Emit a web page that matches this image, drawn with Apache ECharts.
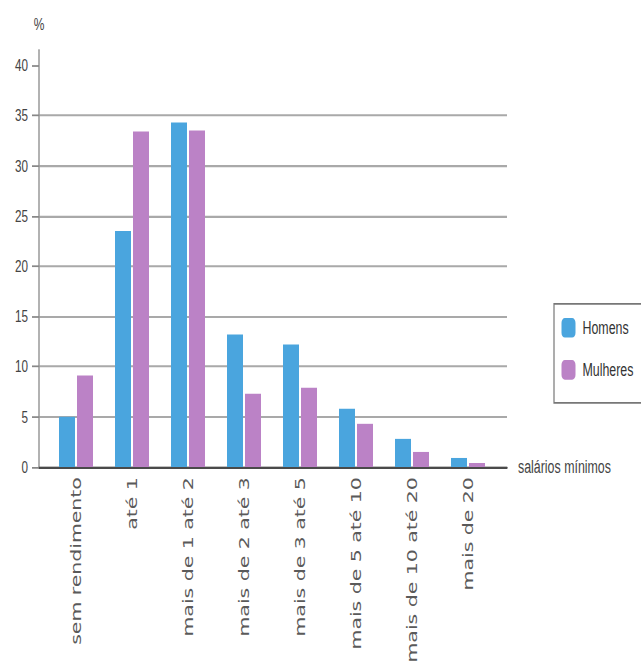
<!DOCTYPE html>
<html><head><meta charset="utf-8">
<script src="https://cdn.jsdelivr.net/npm/echarts@6/dist/echarts.min.js"></script>
<style>
html,body{margin:0;padding:0;background:#fff;overflow:hidden}
#wrap{width:641px;height:663px;overflow:hidden;background:#fff}
#c{width:641px;height:457px;transform:scaleY(1.45077);transform-origin:0 0}
</style>
</head><body><div id="wrap"><div id="c"></div></div>
<script>
const categories = ['sem rendimento','até 1','mais de 1 até 2','mais de 2 até 3','mais de 3 até 5','mais de 5 até 10','mais de 10 até 20','mais de 20'];
const homens = [5.0, 23.5, 34.3, 13.2, 12.2, 5.8, 2.8, 0.9];
const mulheres = [9.1, 33.4, 33.5, 7.3, 7.9, 4.3, 1.5, 0.4];
const yTicks = [0, 5, 10, 15, 20, 25, 30, 35, 40];
const seriesNames = ['Homens', 'Mulheres'];
const yAxisName = '%';
const xAxisName = 'salários mínimos';
const Y_MAX = 41.5;

const colors = ['#4aa5de', '#bb82c6'];
const sansNarrow = "'Liberation Sans', Arial, sans-serif";

const chart = echarts.init(document.getElementById('c'), null, {renderer: 'svg'});
chart.setOption({
  animation: false,
  backgroundColor: '#fff',
  color: colors,
  grid: [
    {left: 39, right: 134, top: 34.6, bottom: 135.1, outerBoundsMode: 'none', containLabel: false},
    {left: 48, right: 145, top: 34.6, bottom: 135.1, outerBoundsMode: 'none', containLabel: false}
  ],
  legend: {
    orient: 'vertical', left: 554, top: 209.5,
    padding: [9.7, 20, 16, 7.5],
    itemWidth: 14, itemHeight: 13.5, itemGap: 15.5,
    borderColor: '#777', borderWidth: 1.2, borderRadius: 0,
    textStyle: {fontFamily: sansNarrow, fontSize: 12.4, color: '#333', padding: [0, 0, 0, 2]},
    data: seriesNames
  },
  xAxis: [
    {
      gridIndex: 0, type: 'value', min: 0, max: 1,
      axisLine: {show: true, onZero: false, lineStyle: {color: '#4a4a4a', width: 1.4}},
      axisTick: {show: false}, axisLabel: {show: false}, splitLine: {show: false},
      name: xAxisName, nameLocation: 'end', nameGap: 11,
      nameTextStyle: {fontFamily: sansNarrow, fontSize: 12.4, color: '#444'}
    },
    {
      gridIndex: 1, type: 'category', data: categories,
      axisLine: {show: false}, axisTick: {show: false},
      axisLabel: {rotate: 90, interval: 0, margin: 7, fontFamily: "'DejaVu Sans', sans-serif", fontSize: 14.1, color: '#5a5a5a'}
    }
  ],
  yAxis: [
    {
      gridIndex: 0, type: 'value', min: 0, max: Y_MAX, interval: 5,
      axisLine: {show: true, lineStyle: {color: '#999', width: 1.5}},
      axisTick: {show: true, length: 7, customValues: yTicks, lineStyle: {color: '#888', width: 1.2}},
      axisLabel: {customValues: yTicks, margin: 11, fontFamily: sansNarrow, fontSize: 11.7, color: '#444'},
      splitLine: {show: true, showMaxLine: false, lineStyle: {color: '#a9a9a9', width: 1.4}},
      name: yAxisName, nameLocation: 'end', nameGap: 12,
      nameTextStyle: {fontFamily: sansNarrow, fontSize: 12, color: '#444'}
    },
    {gridIndex: 1, type: 'value', min: 0, max: Y_MAX, show: false}
  ],
  series: [
    {name: seriesNames[0], type: 'bar', xAxisIndex: 1, yAxisIndex: 1, data: homens, barWidth: 16, barGap: '12.5%'},
    {name: seriesNames[1], type: 'bar', xAxisIndex: 1, yAxisIndex: 1, data: mulheres, barWidth: 16, barGap: '12.5%'}
  ]
});
</script>
</body></html>
